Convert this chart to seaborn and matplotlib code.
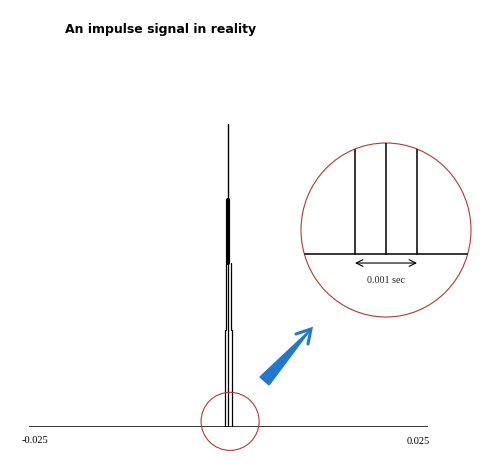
import matplotlib
matplotlib.use("Agg")
import matplotlib.pyplot as plt
import seaborn as sns
import pandas as pd
from matplotlib.patches import Ellipse, Polygon

# spike sections: time offsets of the lines, bottom and top amplitude, line width
sec_top = {"t": [0.0], "y0": 0.75, "y1": 1.0, "lw": 1.0}
sec_thick = {"t": [0.0], "y0": 0.54, "y1": 0.75, "lw": 3.0}
sec_narrow = {"t": [-0.0003, 0.0, 0.0003], "y0": 0.32, "y1": 0.54, "lw": 0.9}
sec_base = {"t": [-0.0005, 0.0, 0.0005], "y0": 0.0, "y1": 0.32, "lw": 0.9}
sections = [sec_top, sec_thick, sec_narrow, sec_base]

x_range = [-0.025, 0.025]
x_labels = ["-0.025", "0.025"]

# zoomed view: lines 0.001 sec apart
zoom_t = [-0.0005, 0.0, 0.0005]
zoom_label = "0.001 sec"

title = "An impulse signal in reality"

sns.set_theme(style="white")
W, H = 489, 473
fig = plt.figure(figsize=(W / 100, H / 100), dpi=100)


def px_box(x0, y0, x1, y1):
    return [x0 / W, (H - y1) / H, (x1 - x0) / W, (y1 - y0) / H]


def segments(ts, y0, y1):
    rows = []
    for i, t in enumerate(ts):
        rows.append({"seg": i, "t": t, "amp": y0})
        rows.append({"seg": i, "t": t, "amp": y1})
    return pd.DataFrame(rows)


red = "#b03a3a"

# main signal
ax = fig.add_axes(px_box(29, 124, 428, 426.5))
ax.set_xlim(*x_range)
ax.set_ylim(0, 1)
ax.axis("off")
sns.lineplot(x=x_range, y=[0, 0], color="black", lw=1.1, estimator=None, ax=ax)
for sec in sections:
    df = segments(sec["t"], sec["y0"], sec["y1"])
    sns.lineplot(data=df, x="t", y="amp", units="seg", estimator=None, sort=False,
                 color="black", lw=sec["lw"], ax=ax)
ax.scatter([0.0002], [0.017], s=1747, facecolors="none", edgecolors=red,
           linewidths=0.8, clip_on=False, zorder=5)
ax.text(-0.0259, -0.046, x_labels[0], family="Liberation Serif", fontsize=7.5,
        ha="left", va="center", color="black")
ax.text(0.0252, -0.051, x_labels[1], family="Liberation Serif", fontsize=7.5,
        ha="right", va="center", color="black")

# zoomed inset
axz = fig.add_axes(px_box(301, 143, 471, 317))
axz.axis("off")
axz.set_xlim(-0.00137, 0.00137)
axz.set_ylim(-0.6, 1.057)
ell = Ellipse((0.5, 0.5), 1, 1, transform=axz.transAxes, facecolor="none",
              edgecolor=red, lw=0.8, clip_on=False)
axz.add_patch(ell)
clip = Ellipse((0.5, 0.5), 1, 1, transform=axz.transAxes, facecolor="none",
               edgecolor="none")
axz.add_patch(clip)
sns.lineplot(x=[-0.002, 0.002], y=[0, 0], color="black", lw=1.1, estimator=None, ax=axz)
sns.lineplot(data=segments(zoom_t, 0, 1.3), x="t", y="amp", units="seg",
             estimator=None, sort=False, color="black", lw=1.1, ax=axz)
for ln in axz.lines:
    ln.set_clip_path(clip)
axz.annotate("", xy=(zoom_t[0], -0.086), xytext=(zoom_t[-1], -0.086),
             arrowprops=dict(arrowstyle="<->", color="black", lw=0.8,
                             shrinkA=0, shrinkB=0))
axz.text(0.0, -0.25, zoom_label, family="Liberation Serif", fontsize=7.2,
         ha="center", va="center", color="#222222")

# overlay in pixel units for the pointer arrow
ov = fig.add_axes([0, 0, 1, 1])
ov.set_xlim(0, W)
ov.set_ylim(H, 0)
ov.axis("off")
ov.patch.set_alpha(0)
blue = "#1f78d1"
ov.add_patch(Polygon([(260, 377), (269, 385), (311, 329)], closed=True,
                     facecolor=blue, edgecolor=blue, lw=1))
ov.plot([296, 311, 308], [334, 329, 344], color=blue, lw=2.2,
        solid_joinstyle="miter")

fig.text(65 / W, 1 - 30 / H, title, fontsize=9.0, fontweight="heavy",
         family="DejaVu Sans", ha="left", va="center", color="black")

fig.savefig("out.png", dpi=100)
